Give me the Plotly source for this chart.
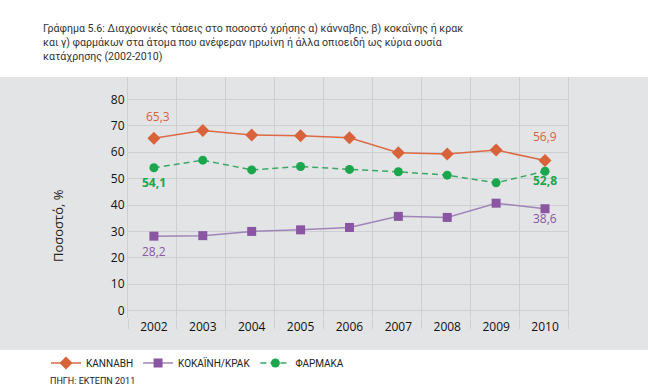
import plotly.graph_objects as go

years = ["2002", "2003", "2004", "2005", "2006", "2007", "2008", "2009", "2010"]
cannabis = [65.3, 68.2, 66.5, 66.2, 65.5, 59.8, 59.3, 60.8, 56.9]
cocaine = [28.2, 28.4, 30.0, 30.6, 31.5, 35.7, 35.3, 40.7, 38.6]
pharma = [54.1, 57.0, 53.3, 54.6, 53.5, 52.6, 51.3, 48.4, 52.8]
y_ticks = [0, 10, 20, 30, 40, 50, 60, 70, 80]

names = ["ΚΑΝΝΑΒΗ", "ΚΟΚΑΪΝΗ/ΚΡΑΚ", "ΦΑΡΜΑΚΑ"]
title = ("Γράφημα 5.6: Διαχρονικές τάσεις στο ποσοστό χρήσης α) κάνναβης, β) κοκαΐνης ή κρακ<br>"
         "και γ) φαρμάκων στα άτομα που ανέφεραν ηρωίνη ή άλλα οπιοειδή ως κύρια ουσία<br>"
         "κατάχρησης (2002-2010)")
source = "ΠΗΓΗ: ΕΚΤΕΠΝ 2011"
ytitle = "Ποσοστό, %"

FONT = "Open Sans"
NARROW = "Roboto"
c_can, c_can_line = "#d8623a", "#dc6a44"
c_coc, c_coc_line = "#8a55a3", "#a085b8"
c_ph, c_ph_line = "#1aa64c", "#3aa865"
grid = "#cdcfd2"
band = "#e3e4e6"

W, H = 648, 392
L, R, T, B = 128, 80, 77, 74
PW, PH = W - L - R, H - T - B

xi = list(range(len(years)))

fig = go.Figure()
fig.add_trace(go.Scatter(x=xi, y=cannabis, name=names[0], mode="lines+markers",
                         line=dict(color=c_can_line, width=1.5),
                         marker=dict(symbol="diamond", size=10, color=c_can)))
fig.add_trace(go.Scatter(x=xi, y=cocaine, name=names[1], mode="lines+markers",
                         line=dict(color=c_coc_line, width=1.5),
                         marker=dict(symbol="square", size=9, color=c_coc)))
fig.add_trace(go.Scatter(x=xi, y=pharma, name=names[2], mode="lines+markers",
                         line=dict(color=c_ph_line, width=1.5, dash="6px,4px"),
                         marker=dict(symbol="circle", size=9, color=c_ph)))

def fmt(v):
    return f"{v:.1f}".replace(".", ",")

ann = []
label_spec = [
    (cannabis, c_can, [(0, 22, 4), (8, 24, 0)], False),
    (pharma, c_ph, [(0, -15, 0), (8, -9, 0)], True),
    (cocaine, c_coc, [(0, -15, 0), (8, -10, 0)], False),
]
for series, col, pts, bold in label_spec:
    for i, ys, xs in pts:
        t = fmt(series[i])
        ann.append(dict(x=xi[i], y=series[i], text=f"<b>{t}</b>" if bold else t,
                        showarrow=False, yshift=ys, xshift=xs,
                        font=dict(family=FONT, size=12, color=col)))

def px_x(x):
    return (x - L) / PW

def px_y(y):
    return (H - B - y) / PH

ann.append(dict(x=px_x(58), y=px_y(226), xref="paper", yref="paper", text=ytitle, textangle=-90,
                xanchor="center", yanchor="middle",
                showarrow=False, font=dict(family=FONT, size=13, color="#222")))
ann.append(dict(x=px_x(48), y=px_y(381), xref="paper", yref="paper",
                xanchor="left", yanchor="middle", text=source, showarrow=False,
                font=dict(family=NARROW, size=9, color="#222")))
ann.append(dict(x=px_x(41), y=px_y(42), xref="paper", yref="paper",
                xanchor="left", yanchor="middle", align="left", text=title, showarrow=False,
                font=dict(family=NARROW, size=10.6, color="#333")))

fig.update_layout(
    width=W, height=H,
    margin=dict(l=L, r=R, t=T, b=B, autoexpand=False),
    paper_bgcolor="white",
    plot_bgcolor="rgba(0,0,0,0)",
    showlegend=True,
    legend=dict(orientation="h", xref="container", yref="container",
                x=46 / W, y=1 - 363 / H, xanchor="left", yanchor="middle",
                font=dict(family=NARROW, size=10, color="#222"), bgcolor="rgba(0,0,0,0)",
                itemwidth=30, tracegroupgap=0),
    annotations=ann,
    shapes=[dict(type="rect", xref="paper", yref="paper", x0=px_x(0), x1=px_x(W),
                 y0=px_y(350), y1=1, fillcolor=band, line=dict(width=0), layer="below")],
    xaxis=dict(range=[-0.53, 8.47], tickmode="array", tickvals=xi, ticktext=years,
               showgrid=False, zeroline=False, ticks="", showline=False, automargin=False,
               tickfont=dict(family=FONT, size=12, color="#111"),
               minor=dict(tick0=0.47, dtick=1, showgrid=True, gridcolor=grid, gridwidth=1,
                          ticks="outside", ticklen=10, tickcolor=grid, tickwidth=1)),
    yaxis=dict(range=[-2.8, 88.5], tickvals=y_ticks, showgrid=True, gridcolor=grid, gridwidth=1,
               zeroline=False, showline=True, mirror=True, linecolor=grid, linewidth=1,
               automargin=False,
               ticks="", tickfont=dict(family=FONT, size=12, color="#111")),
    hovermode=False,
)

fig.write_html("out.html", config={"displayModeBar": False},
               post_script="document.body.style.margin='0';document.body.style.overflow='hidden';")
